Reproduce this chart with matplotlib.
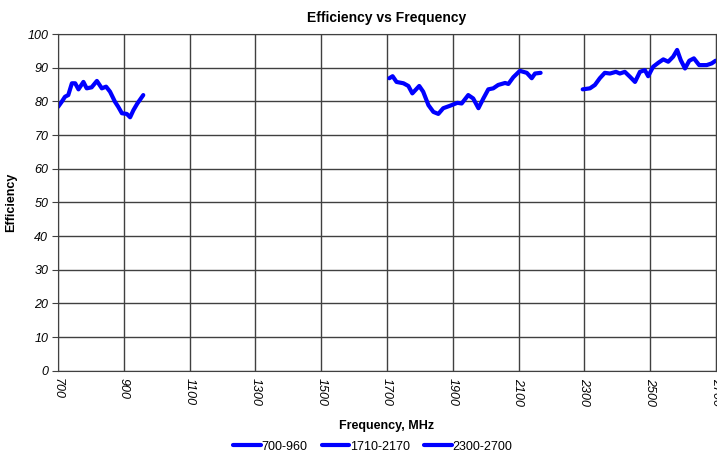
import matplotlib
matplotlib.use("Agg")
import matplotlib.pyplot as plt

plt.rcParams['font.family'] = ['Liberation Sans', 'DejaVu Sans']

# Band 1: 700-960 MHz
f1 = [700, 711, 721, 731, 742, 752, 762, 777, 787, 802, 818, 833, 846, 858,
      873, 883, 894, 909, 919, 929, 941, 959]
e1 = [78.4, 79.9, 81.4, 81.9, 85.4, 85.4, 83.6, 85.8, 83.9, 84.2, 86.1, 83.9,
      84.4, 82.9, 79.9, 78.4, 76.5, 76.3, 75.3, 77.4, 79.4, 81.9]

# Band 2: 1710-2170 MHz
f2 = [1707, 1717, 1729, 1750, 1765, 1777, 1798, 1810, 1826, 1841, 1856, 1871,
      1891, 1914, 1927, 1947, 1962, 1978, 1993, 2008, 2023, 2038, 2059, 2069,
      2084, 2104, 2125, 2140, 2150, 2167]
e2 = [86.9, 87.5, 85.8, 85.4, 84.6, 82.4, 84.6, 82.9, 78.9, 76.9, 76.3, 78.0,
      78.7, 79.6, 79.4, 81.9, 80.9, 78.0, 80.9, 83.6, 83.9, 84.9, 85.5, 85.2,
      87.2, 89.1, 88.5, 86.9, 88.3, 88.5]

# Band 3: 2300-2700 MHz
f3 = [2295, 2317, 2332, 2347, 2362, 2378, 2396, 2408, 2423, 2439, 2454, 2469,
      2484, 2494, 2509, 2525, 2540, 2555, 2570, 2582, 2593, 2606, 2619, 2633,
      2649, 2672, 2687, 2699]
e3 = [83.6, 83.9, 84.9, 86.9, 88.5, 88.3, 88.8, 88.3, 88.8, 87.3, 85.8, 88.8,
      89.3, 87.5, 90.3, 91.5, 92.5, 91.8, 93.3, 95.3, 92.3, 89.8, 92.1, 92.8,
      90.8, 90.8, 91.3, 92.1]

xticks = list(range(700, 2701, 200))
yticks = list(range(0, 101, 10))

fig = plt.figure(figsize=(7.17, 4.55), dpi=100)
ax = fig.add_axes([0.081, 0.185, 0.9175, 0.74])

for f, e, lab in [(f1, e1, "700-960"), (f2, e2, "1710-2170"), (f3, e3, "2300-2700")]:
    ax.plot(f, e, color="#0000ff", lw=3, label=lab, solid_capstyle="round",
            solid_joinstyle="round")

ax.set_xlim(700, 2700)
ax.set_ylim(0, 100)
ax.set_xticks(xticks)
ax.set_yticks(yticks)
ax.set_xticklabels([str(t) for t in xticks], rotation=-90, style="italic", fontsize=9)
ax.set_yticklabels([str(t) for t in yticks], style="italic", fontsize=9)
ax.tick_params(axis="x", length=0, pad=5)
ax.tick_params(axis="y", length=4, color="#404040", pad=3)
ax.grid(True, color="#404040", lw=1)
ax.set_axisbelow(True)
for s in ax.spines.values():
    s.set_color("#404040")

ax.set_title("Efficiency vs Frequency", fontsize=10, fontweight="bold", pad=9)
ax.set_xlabel("Frequency, MHz", fontsize=9, fontweight="bold", labelpad=10)
ax.set_ylabel("Efficiency", fontsize=9, fontweight="bold")
ax.yaxis.set_label_coords(-0.062, 0.5)

fig.legend(loc="lower center", bbox_to_anchor=(0.52, -0.02), ncol=3, frameon=False,
           fontsize=9, handlelength=2.2, handletextpad=0.1, columnspacing=1.1)

fig.savefig("out.png", dpi=100)
